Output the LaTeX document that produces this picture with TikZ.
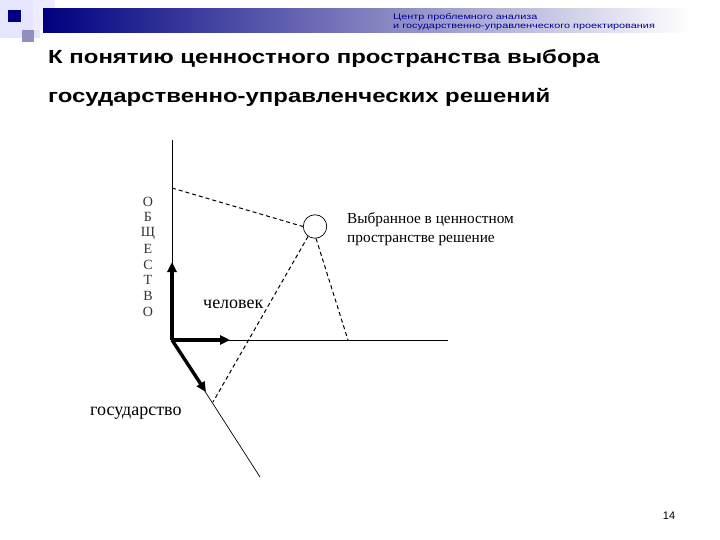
\documentclass[tikz,border=0pt]{standalone}
\usepackage{fontspec}
\setmainfont{Liberation Serif}
\setsansfont{Liberation Sans}
\newfontfamily\headfont[FakeStretch=1.36]{Liberation Sans}
\newfontfamily\titlefont[FakeStretch=1.26]{Liberation Sans}
\usetikzlibrary{arrows.meta}
\colorlet{bar navy}{blue!50!black}
\colorlet{square pale}{blue!10}
\colorlet{square grey}{blue!25!gray!70}
\colorlet{head text}{blue!60!black}
\tikzset{axis/.style={draw, line width=0.7pt},
	thickarrow/.style={line width=3.4pt, -{Triangle[length=10pt,width=9pt]}},
	proj/.style={draw, dash pattern=on 4pt off 3pt, line width=1pt},
	lbl/.style={inner sep=0pt, font=\fontsize{18}{20}\selectfont},
	letter/.style={inner sep=0pt, text=black!80, font=\fontsize{14}{16}\selectfont}}

\begin{document}
\begin{tikzpicture}[x=1pt,y=-1pt]
		\useasboundingbox (0,0) rectangle (720,540);
		% header
		\fill[square pale] (0,0) rectangle (40,38);
		\fill[square pale!70] (33,0) rectangle (55,30);
		\fill[square grey] (22,30) rectangle (34,42);
		\shade[left color=bar navy, right color=white] (43,9) rectangle (690,33);
		\fill[bar navy] (8,10) rectangle (21,22);
		\node[anchor=north west, align=left, inner sep=0pt, text=head text,
			font=\headfont\fontsize{8}{9}\selectfont] (head) at (393,13)
			{Центр проблемного анализа\\и государственно-управленческого проектирования};
		% title
		\node[anchor=base west, inner sep=0pt, font=\titlefont\bfseries\fontsize{19}{24}\selectfont] (title1) at (48,64)
			{К понятию ценностного пространства выбора};
		\node[anchor=base west, inner sep=0pt, font=\titlefont\bfseries\fontsize{19}{24}\selectfont] (title2) at (48,103)
			{государственно-управленческих решений};
		% axes
		\coordinate (o) at (172,340);
		\coordinate (ytop) at (172,140);
		\coordinate (xend) at (448,340);
		\coordinate (gend) at (260,477);
		\draw[axis] (ytop) -- (o) -- (xend);
		\draw[axis] (o) -- (gend);
		\draw[thickarrow] (o) -- (172,262);
		\draw[thickarrow] (o) -- (230,340);
		\draw[thickarrow] (o) -- (206,392);
		% chosen point and projections
		\node[draw, circle, line width=0.7pt, minimum size=23.5pt, inner sep=0pt] (choice) at (315,226.5) {};
		\coordinate (py) at (172,188);
		\coordinate (px) at (348,340);
		\coordinate (pg) at (213,402);
		\draw[proj] (py) -- (choice.west);
		\draw[proj] (choice.-125) -- (pg);
		\draw[proj] (choice.-85) -- (px);
		% labels
		\node[inner sep=0pt, anchor=base west, align=left, font=\fontsize{15.3}{19}\selectfont] (choicelbl) at (347,243)
			{Выбранное в ценностном\\пространстве решение};
		\node[lbl, anchor=base west] (man) at (203,308) {человек};
		\node[lbl, anchor=base west] (state) at (90,415) {государство};
		\foreach \ch [count=\i] in {О,Б,Щ,Е,С,Т,В,О}
			\node[letter] (soc\i) at (148,186+15.7*\i) {\ch};
		\node[inner sep=0pt, font=\sffamily\fontsize{11}{11}\selectfont] (page) at (669,516) {14};
		\end{tikzpicture}
\end{document}
